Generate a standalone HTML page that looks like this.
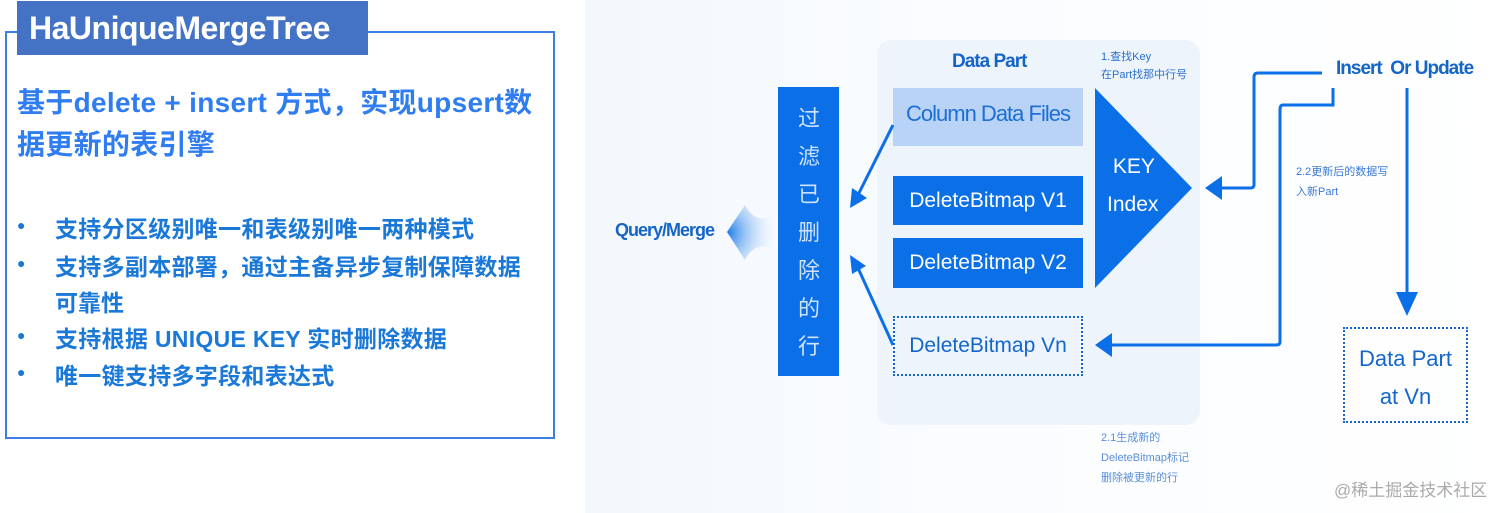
<!DOCTYPE html>
<html><head><meta charset="utf-8"><style>
body{margin:0;width:1512px;height:513px;background:#fff;position:relative;overflow:hidden;font-family:"Liberation Sans","Noto Sans CJK SC",sans-serif}
.a{position:absolute;white-space:nowrap}
.b{font-weight:bold;color:#1a78d8;font-size:23px}
.d{font-size:14px}
</style></head><body>
<div class="a" style="left:5px;top:31px;width:546px;height:404px;border:2px solid #3d7ee6"></div>
<div class="a" style="left:17px;top:1px;width:351px;height:54px;background:#4472c4"></div>
<div class="a" style="left:29px;top:10px;color:#fff;font-weight:bold;font-size:32px;letter-spacing:-0.5px">HaUniqueMergeTree</div>
<div class="a" style="left:17px;top:82px;color:#2f7df0;font-weight:bold;font-size:28px;line-height:42px;letter-spacing:0.3px">基于delete + insert 方式，实现upsert数<br>据更新的表引擎</div>
<div class="a b d" style="left:17px;top:217px">●</div><div class="a b" style="left:55px;top:210px;letter-spacing:0.3px">支持分区级别唯一和表级别唯一两种模式</div>
<div class="a b d" style="left:17px;top:255px">●</div><div class="a b" style="left:55px;top:248px;letter-spacing:0.3px">支持多副本部署，通过主备异步复制保障数据</div>
<div class="a b" style="left:55px;top:284px">可靠性</div>
<div class="a b d" style="left:17px;top:327px">●</div><div class="a b" style="left:55px;top:320px;letter-spacing:0.3px">支持根据 UNIQUE KEY 实时删除数据</div>
<div class="a b d" style="left:17px;top:364px">●</div><div class="a b" style="left:55px;top:357px;letter-spacing:0.3px">唯一键支持多字段和表达式</div>

<div class="a" style="left:585px;top:0;width:927px;height:513px;background:linear-gradient(90deg,#f3f8fd,#fafcff 40%,#fff)"></div>
<div class="a" style="left:877px;top:40px;width:323px;height:385px;background:#eef4fc;border-radius:14px"></div>
<div class="a" style="left:952px;top:51px;color:#1565c8;font-size:19px;font-weight:bold;letter-spacing:-1px">Data Part</div>
<div class="a" style="left:1101px;top:48px;color:#2a6fd0;font-size:11px;line-height:18px">1.查找Key<br>在Part找那中行号</div>
<div class="a" style="left:778px;top:87px;width:61px;height:289px;background:#0b6fe8"></div>
<div class="a" style="left:795px;top:100px;color:#cfe2ff;font-size:22px;line-height:38px;width:28px;white-space:normal;text-align:center">过滤已删除的行</div>
<div class="a" style="left:893px;top:88px;width:190px;height:58px;background:#b8d3f5"></div>
<div class="a" style="left:893px;top:101px;width:190px;text-align:center;color:#1c6fd6;font-size:22px;letter-spacing:-1px">Column Data Files</div>
<div class="a" style="left:893px;top:176px;width:190px;height:49px;background:#0b6fe8;color:#fff;font-size:21px;text-align:center;line-height:49px">DeleteBitmap V1</div>
<div class="a" style="left:893px;top:238px;width:190px;height:50px;background:#0b6fe8;color:#fff;font-size:21px;text-align:center;line-height:50px">DeleteBitmap V2</div>
<div class="a" style="left:893px;top:316px;width:186px;height:56px;border:2px dotted #1466cc;color:#1466cc;font-size:21px;text-align:center;line-height:56px">DeleteBitmap Vn</div>
<div class="a" style="left:615px;top:220px;color:#1565c8;font-size:18px;font-weight:bold;letter-spacing:-1px">Query/Merge</div>
<div class="a" style="left:1336px;top:58px;color:#1565c8;font-size:19px;font-weight:bold;letter-spacing:-1px">Insert&nbsp; Or Update</div>
<div class="a" style="left:1296px;top:162px;color:#3a7ad8;font-size:11px;line-height:20px">2.2更新后的数据写<br>入新Part</div>
<div class="a" style="left:1101px;top:428px;color:#5a8fdc;font-size:11px;line-height:20px">2.1生成新的<br>DeleteBitmap标记<br>删除被更新的行</div>
<div class="a" style="left:1343px;top:327px;width:121px;height:92px;border:2px dotted #1466cc"></div>
<div class="a" style="left:1343px;top:340px;width:125px;text-align:center;color:#1466cc;font-size:22px;line-height:38px">Data Part<br>at Vn</div>
<div class="a" style="left:1334px;top:476px;color:#aaa;font-size:17px">@稀土掘金技术社区</div>
<div class="a" style="left:1107px;top:148px;color:#fff;font-size:21px;line-height:38px;z-index:2">&nbsp;KEY<br>Index</div>
<svg class="a" style="left:0;top:0" width="1512" height="513">
<defs><radialGradient id="g" cx="0" cy="0.5" r="1"><stop offset="0" stop-color="#1b7be8"/><stop offset="1" stop-color="#cfe3fa" stop-opacity="0"/></radialGradient></defs>
<path d="M727 232 L745 205 Q755 225 775 215 L775 250 Q755 240 745 260 Z" fill="url(#g)"/>
<polygon points="1095,88 1192,188 1095,288" fill="#0b6fe8"/>
<g stroke="#0b6fe8" stroke-width="3" fill="none">
<line x1="893" y1="125" x2="858" y2="195"/>
<line x1="893" y1="345" x2="858" y2="268"/>
<path d="M1322 73 H1258 Q1254 73 1254 77 V185 Q1254 188 1250 188 H1215"/>
<path d="M1333 88 V105 H1283 Q1280 105 1280 110 V342 Q1280 345 1276 345 H1110"/>
<line x1="1407" y1="88" x2="1407" y2="300"/>
</g>
<g fill="#0b6fe8">
<polygon points="850,208 852,188 867,198"/>
<polygon points="850,255 866,266 852,274"/>
<polygon points="1205,188 1222,176 1222,200"/>
<polygon points="1095,345 1112,333 1112,357"/>
<polygon points="1407,316 1396,292 1418,292"/>
</g>
</svg>
</body></html>
